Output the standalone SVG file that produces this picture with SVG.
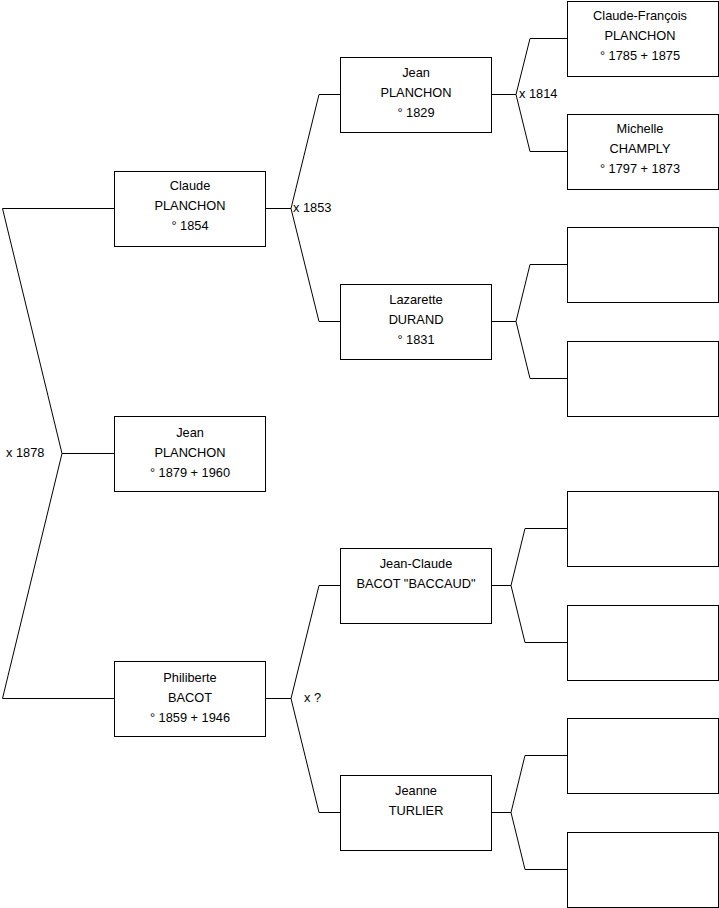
<svg xmlns="http://www.w3.org/2000/svg" width="719" height="908" viewBox="0 0 719 908">
<style>
.box{fill:#fff;stroke:#000;stroke-width:1}
.ln{fill:none;stroke:#000;stroke-width:1}
text{font-family:"Liberation Sans",Arial,sans-serif;font-size:12.8px;fill:#000}
.c{text-anchor:middle}
</style>
<rect width="719" height="908" fill="#fff"/>
<g id="connectors">
<polyline class="ln" points="114,208.5 2.5,208.5 62,453.5 2.5,698.5 114,698.5"/>
<line class="ln" x1="62" y1="453.5" x2="114" y2="453.5"/>
<polyline class="ln" points="340,94.5 319,94.5 291,208.5 319,321.5 340,321.5"/>
<line class="ln" x1="265" y1="208.5" x2="291" y2="208.5"/>
<polyline class="ln" points="340,585.5 319,585.5 291,698.5 319,812.5 340,812.5"/>
<line class="ln" x1="265" y1="698.5" x2="291" y2="698.5"/>
<polyline class="ln" points="567,38.5 530,38.5 516,94.5 530,151.5 567,151.5"/>
<line class="ln" x1="491" y1="94.5" x2="516" y2="94.5"/>
<polyline class="ln" points="567,264.5 530,264.5 516,321.5 530,378.5 567,378.5"/>
<line class="ln" x1="491" y1="321.5" x2="516" y2="321.5"/>
<polyline class="ln" points="567,528.5 525,528.5 511,585.5 525,642.5 567,642.5"/>
<line class="ln" x1="491" y1="585.5" x2="511" y2="585.5"/>
<polyline class="ln" points="567,755.5 525,755.5 511,812.5 525,869.5 567,869.5"/>
<line class="ln" x1="491" y1="812.5" x2="511" y2="812.5"/>
<text x="6" y="457">x 1878</text>
<text x="293" y="212">x 1853</text>
<text x="519" y="98">x 1814</text>
<text x="304" y="702">x ?</text>
</g>
<g id="claude">
<rect class="box" x="114.5" y="171.5" width="151" height="75"/>
<text class="c" x="190" y="190">Claude</text>
<text class="c" x="190" y="210">PLANCHON</text>
<text class="c" x="190" y="230">° 1854</text>
</g>
<g id="jean-1879">
<rect class="box" x="114.5" y="416.5" width="151" height="75"/>
<text class="c" x="190" y="437">Jean</text>
<text class="c" x="190" y="457">PLANCHON</text>
<text class="c" x="190" y="477">° 1879 + 1960</text>
</g>
<g id="philiberte">
<rect class="box" x="114.5" y="661.5" width="151" height="75"/>
<text class="c" x="190" y="682">Philiberte</text>
<text class="c" x="190" y="702">BACOT</text>
<text class="c" x="190" y="722">° 1859 + 1946</text>
</g>
<g id="jean-1829">
<rect class="box" x="340.5" y="57.5" width="151" height="75"/>
<text class="c" x="416" y="77">Jean</text>
<text class="c" x="416" y="97">PLANCHON</text>
<text class="c" x="416" y="117">° 1829</text>
</g>
<g id="lazarette">
<rect class="box" x="340.5" y="284.5" width="151" height="75"/>
<text class="c" x="416" y="304">Lazarette</text>
<text class="c" x="416" y="324">DURAND</text>
<text class="c" x="416" y="344">° 1831</text>
</g>
<g id="jean-claude">
<rect class="box" x="340.5" y="548.5" width="151" height="75"/>
<text class="c" x="416" y="568">Jean-Claude</text>
<text class="c" x="416" y="588">BACOT "BACCAUD"</text>
</g>
<g id="jeanne">
<rect class="box" x="340.5" y="775.5" width="151" height="75"/>
<text class="c" x="416" y="795">Jeanne</text>
<text class="c" x="416" y="815">TURLIER</text>
</g>
<g id="claude-francois">
<rect class="box" x="567.5" y="1.5" width="151" height="75"/>
<text class="c" x="640" y="20">Claude-François</text>
<text class="c" x="640" y="40">PLANCHON</text>
<text class="c" x="640" y="60">° 1785 + 1875</text>
</g>
<g id="michelle">
<rect class="box" x="567.5" y="114.5" width="151" height="75"/>
<text class="c" x="640" y="133">Michelle</text>
<text class="c" x="640" y="153">CHAMPLY</text>
<text class="c" x="640" y="173">° 1797 + 1873</text>
</g>
<g id="empty-1"><rect class="box" x="567.5" y="227.5" width="151" height="75"/></g>
<g id="empty-2"><rect class="box" x="567.5" y="341.5" width="151" height="75"/></g>
<g id="empty-3"><rect class="box" x="567.5" y="491.5" width="151" height="75"/></g>
<g id="empty-4"><rect class="box" x="567.5" y="605.5" width="151" height="75"/></g>
<g id="empty-5"><rect class="box" x="567.5" y="718.5" width="151" height="75"/></g>
<g id="empty-6"><rect class="box" x="567.5" y="832.5" width="151" height="75"/></g>
</svg>
